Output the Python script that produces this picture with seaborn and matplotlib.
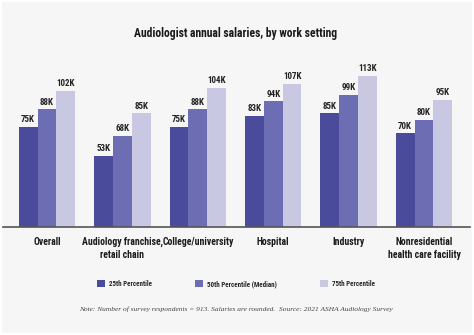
import matplotlib
matplotlib.use("Agg")
import matplotlib.pyplot as plt
from matplotlib import font_manager as fm
from matplotlib.patches import Rectangle, Patch
import seaborn as sns
import pandas as pd

settings = ["Overall", "Audiology franchise,\nretail chain", "College/university",
            "Hospital", "Industry", "Nonresidential\nhealth care facility"]
p25 = [75, 53, 75, 83, 85, 70]
p50 = [88, 68, 88, 94, 99, 80]
p75 = [102, 85, 104, 107, 113, 95]
series = ["25th Percentile", "50th Percentile (Median)", "75th Percentile"]
colors = ["#4b4b9b", "#6d6db3", "#c9c8e3"]

df = pd.DataFrame({
    "setting": settings * 3,
    "salary": p25 + p50 + p75,
    "percentile": [s for s in series for _ in settings],
})

# pick a narrow sans face if one is installed
installed = {(f.name, f.stretch) for f in fm.fontManager.ttflist}
names = {n for n, _ in installed}
font = "DejaVu Sans"
stretch = "normal"
for cand in ["Roboto Condensed", "Liberation Sans Narrow", "Open Sans Condensed"]:
    if cand in names:
        font = cand
        break
else:
    if any(n == "DejaVu Sans" and s == "condensed" for n, s in installed):
        stretch = "condensed"
    elif "Roboto" in names:
        font = "Roboto"

sns.set_theme(style="white")
plt.rcParams["font.family"] = [font, "DejaVu Sans"]
plt.rcParams["font.stretch"] = stretch

bg = "#f6f6f6"
fig = plt.figure(figsize=(4.74, 3.35), dpi=100, facecolor="white")
fig.patches.append(Rectangle((2 / 474, 2 / 335), 470 / 474, 331 / 335,
                             transform=fig.transFigure, facecolor=bg,
                             edgecolor="none", zorder=-10))

ax = fig.add_axes([3 / 474, 108 / 335, 467 / 474, 167 / 335])
ax.patch.set_alpha(0)

sns.barplot(data=df, x="setting", y="salary", hue="percentile",
            palette=colors, width=0.75, saturation=1, linewidth=0,
            ax=ax, legend=False)

for cont in ax.containers:
    labels = [f"{int(v)}K" for v in cont.datavalues]
    ax.bar_label(cont, labels=labels, padding=2, fontsize=6.5, fontweight="bold",
                 color="#222222")

ax.set_xlim(-0.584, 5.61)
ax.set_ylim(0, 125)
ax.set_xlabel("")
ax.set_ylabel("")
ax.set_yticks([])
ax.tick_params(axis="x", length=0, pad=7)
for lab in ax.get_xticklabels():
    lab.set_fontweight("bold")
    lab.set_fontsize(7)
    lab.set_color("#1a1a1a")
    lab.set_linespacing(1.35)
for side in ["top", "right", "left"]:
    ax.spines[side].set_visible(False)
ax.spines["bottom"].set_color("#555555")
ax.spines["bottom"].set_linewidth(1.2)

fig.text(236 / 474, 1 - 34 / 335, "Audiologist annual salaries, by work setting",
         ha="center", va="center", fontsize=8.4, fontweight="bold", color="#1a1a1a")

handles = [Patch(facecolor=c, edgecolor="none") for c in colors]
fig.legend(handles, series, loc="center", bbox_to_anchor=(236 / 474, 1 - 284 / 335),
           ncol=3, frameon=False, handlelength=1.1, handleheight=1.1,
           handletextpad=0.6, columnspacing=6.2,
           prop={"family": [font, "DejaVu Sans"], "stretch": stretch,
                 "weight": "bold", "size": 5})

fig.text(236 / 474, 1 - 309 / 335,
         "Note: Number of survey respondents = 913. Salaries are rounded.  Source: 2021 ASHA Audiology Survey",
         ha="center", va="center", fontsize=5.35, style="italic",
         family=["Liberation Serif", "DejaVu Serif"], color="#444444")

fig.savefig("out.png", dpi=100, facecolor="white")
